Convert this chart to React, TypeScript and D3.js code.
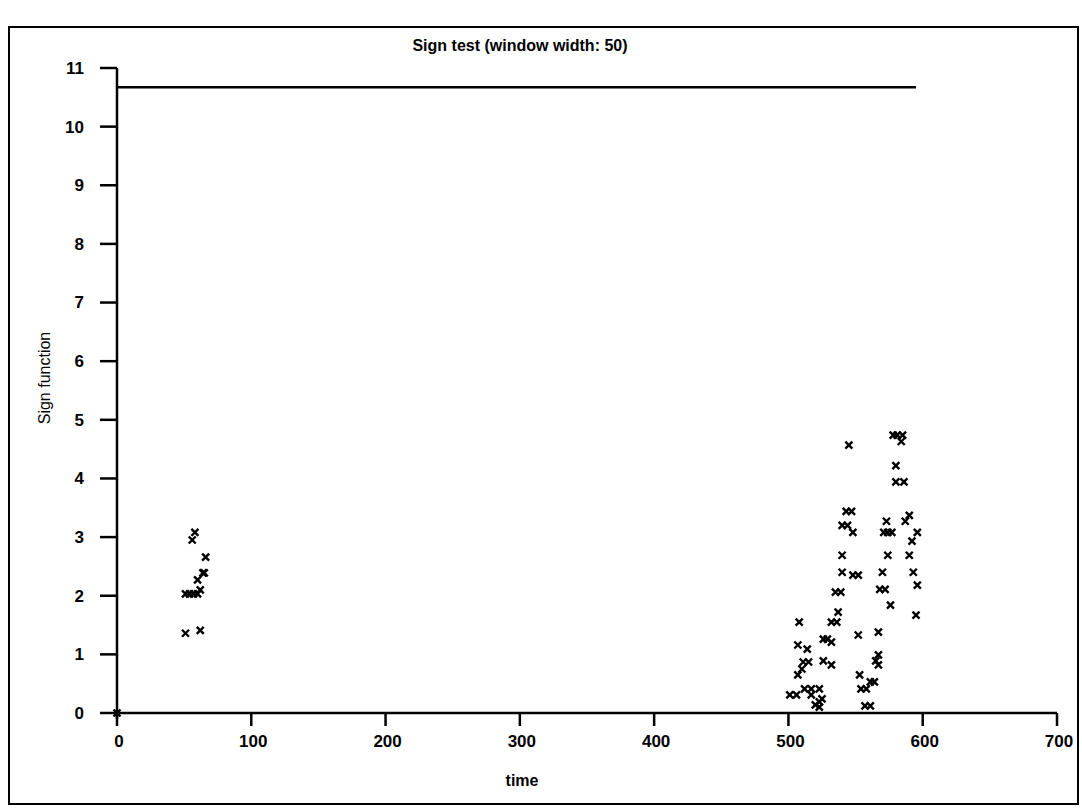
import * as d3 from 'd3';
import React from 'react';

// Sign test chart, window width 50
const title = 'Sign test (window width: 50)';
const xLabel = 'time';
const yLabel = 'Sign function';

const xTicks = [0, 100, 200, 300, 400, 500, 600, 700];
const yTicks = [0, 1, 2, 3, 4, 5, 6, 7, 8, 9, 10, 11];

// threshold line (value, from time, to time)
const thresholdValue = 10.67;
const thresholdSpan = [0, 595];

// sign function samples (time, value)
const sampleTime = [
    0,
    51, 54, 57, 60, 62, 60, 64, 65, 66, 56, 58, 51, 62,
    540, 548, 552, 535, 539, 537, 508, 532, 536, 552, 507, 514, 526, 529, 532,
    511, 515, 510, 507, 526, 532, 501, 506, 512, 517, 523, 517, 525, 523, 520, 523,
    553, 561, 564, 554, 558, 557, 561, 565, 567, 567, 567, 576,
    578, 581, 585, 584, 545, 580, 580, 586, 543, 547, 590, 540, 544, 548, 573, 587,
    571, 574, 577, 596, 592, 540, 574, 590, 570, 593, 568, 572, 596, 595,
];
const sampleSign = [
    0,
    2.03, 2.03, 2.03, 2.03, 2.1, 2.27, 2.39, 2.39, 2.66, 2.95, 3.08, 1.36, 1.41,
    2.4, 2.35, 2.35, 2.06, 2.06, 1.72, 1.55, 1.55, 1.55, 1.33, 1.16, 1.09, 1.26, 1.26, 1.21,
    0.87, 0.87, 0.75, 0.65, 0.89, 0.82, 0.31, 0.31, 0.41, 0.41, 0.41, 0.31, 0.24, 0.19, 0.14, 0.1,
    0.65, 0.53, 0.53, 0.41, 0.41, 0.12, 0.12, 0.89, 0.82, 0.99, 1.38, 1.84,
    4.74, 4.74, 4.74, 4.63, 4.57, 4.22, 3.94, 3.94, 3.44, 3.44, 3.37, 3.2, 3.2, 3.08, 3.27, 3.27,
    3.08, 3.08, 3.08, 3.08, 2.93, 2.69, 2.69, 2.69, 2.4, 2.4, 2.11, 2.11, 2.18, 1.67,
];

const W = 1082, H = 808;
const plot = {left: 117, right: 1057, top: 68, bottom: 713};
const font = '"Liberation Sans", Arial, sans-serif';

export default function App(){
    const x = d3.scaleLinear().domain([0, 700]).range([plot.left, plot.right]);
    const y = d3.scaleLinear().domain([0, 11]).range([plot.bottom, plot.top]);

    const pts = sampleTime.map((t, i) => ({t, v: sampleSign[i]}));
    const m = 3.5; // half size of the x marker

    return(
        <div style={{position:'absolute', left:0, top:0}}>
            <svg width={W} height={H} style={{display:'block', background:'#fff'}}>
                {/* frame */}
                <rect x={9} y={27} width={1069} height={777} fill="none" stroke="#000" strokeWidth={2}/>

                <text x={520} y={51} textAnchor="middle" fontFamily={font} fontWeight="bold" fontSize={16}>{title}</text>

                {/* threshold line */}
                <line x1={x(thresholdSpan[0])} x2={x(thresholdSpan[1])} y1={y(thresholdValue)} y2={y(thresholdValue)}
                    stroke="#000" strokeWidth={2.5}/>

                {/* y axis */}
                <line x1={plot.left} x2={plot.left} y1={y(11)} y2={plot.bottom + 6} stroke="#000" strokeWidth={2.5}/>
                {yTicks.map(t => (
                    <g key={'y'+t}>
                        <line x1={plot.left - 17} x2={plot.left} y1={y(t)} y2={y(t)} stroke="#000" strokeWidth={2.5}/>
                        <text x={plot.left - 33} y={y(t)} dy="0.35em" textAnchor="end"
                            fontFamily={font} fontWeight={600} fontSize={17}>{t}</text>
                    </g>
                ))}
                <text transform={`translate(50,${378}) rotate(-90)`} textAnchor="middle"
                    fontFamily={font} fontSize={16}>{yLabel}</text>

                {/* x axis */}
                <line x1={plot.left} x2={plot.right} y1={plot.bottom} y2={plot.bottom} stroke="#000" strokeWidth={2.5}/>
                {xTicks.map(t => (
                    <g key={'x'+t}>
                        <line x1={x(t)} x2={x(t)} y1={plot.bottom} y2={plot.bottom + 13} stroke="#000" strokeWidth={2.5}/>
                        <text x={x(t) + 2} y={plot.bottom + 28} dy="0.35em" textAnchor="middle"
                            fontFamily={font} fontWeight="bold" fontSize={17}>{t}</text>
                    </g>
                ))}
                <text x={522} y={786} textAnchor="middle" fontFamily={font} fontWeight="bold" fontSize={16}>{xLabel}</text>

                {/* samples */}
                {pts.map((p, i) => (
                    <path key={i}
                        d={`M${x(p.t)-m},${y(p.v)-m}L${x(p.t)+m},${y(p.v)+m}M${x(p.t)-m},${y(p.v)+m}L${x(p.t)+m},${y(p.v)-m}`}
                        stroke="#000" strokeWidth={2.4} fill="none"/>
                ))}
            </svg>
        </div>
    );
}
